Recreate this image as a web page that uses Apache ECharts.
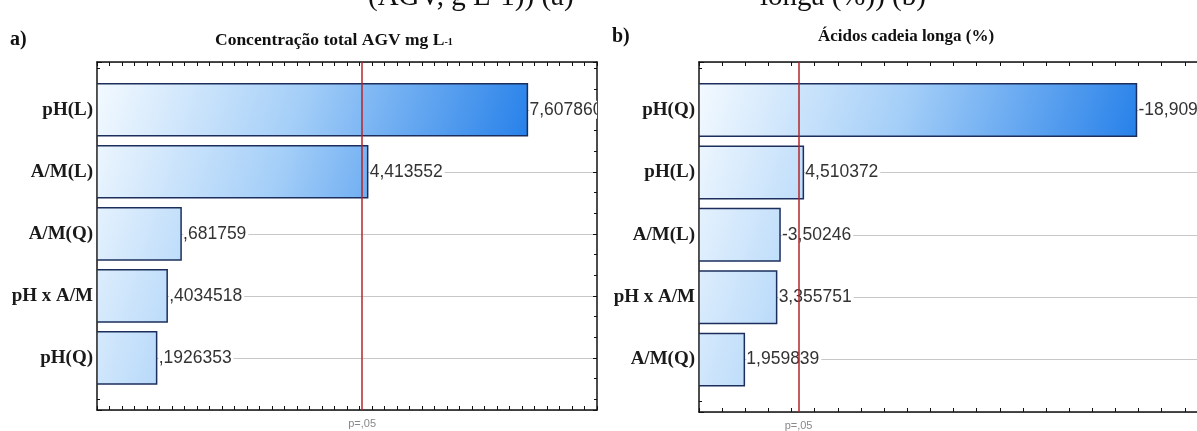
<!DOCTYPE html>
<html>
<head>
<meta charset="utf-8">
<script src="https://cdn.jsdelivr.net/npm/echarts@6/dist/echarts.min.js"></script>
<style>
  html, body { margin: 0; padding: 0; background: #fff; }
  #chart { width: 1197px; height: 431px; }
</style>
</head>
<body>
<div id="chart"></div>
<script>
// panel a) Concentração total AGV
const catsA = ['pH(L)', 'A/M(L)', 'A/M(Q)', 'pH x A/M', 'pH(Q)'];
const valsA = [7.607860, 4.413552, 0.681759, 0.4034518, 0.1926353];
const labelsA = ['7,607860', '4,413552', ',681759', ',4034518', ',1926353'];

// panel b) Ácidos cadeia longa
const catsB = ['pH(Q)', 'pH(L)', 'A/M(L)', 'pH x A/M', 'A/M(Q)'];
const valsB = [-18.90912, 4.510372, -3.50246, 3.355751, 1.959839];
const labelsB = ['-18,90912', '4,510372', '-3,50246', '3,355751', '1,959839'];

// p = .05 critical value
const crit = 4.303;

const yMin = -0.77, yMax = 4.84;
const barH = 0.84;
const serif = '"Liberation Serif", "DejaVu Serif", serif';
const sans = '"Liberation Sans", Arial, sans-serif';

function barRender(vals, labels) {
  const maxV = Math.max(...vals.map(Math.abs));
  return function (params, api) {
    const i = params.dataIndex;
    const cs = params.coordSys;
    const end = api.coord([api.value(0), api.value(1)]);
    const maxEnd = api.coord([maxV, 0]);
    const h = api.size([0, barH])[1];
    const grad = new echarts.graphic.LinearGradient(cs.x, cs.y, maxEnd[0], cs.y + cs.height * 0.4, [
      { offset: 0, color: '#f6fbff' },
      { offset: 0.45, color: '#a5cff8' },
      { offset: 1, color: '#1c7ae8' }
    ], true);
    return {
      type: 'group',
      children: [
        {
          type: 'rect',
          shape: { x: cs.x, y: end[1] - h / 2, width: end[0] - cs.x, height: h },
          style: { fill: grad, stroke: '#1c2f5c', lineWidth: 1.5 }
        },
        {
          type: 'text',
          x: end[0] + 2, y: end[1],
          style: {
            text: labels[i], fill: '#333', font: '17.5px ' + sans,
            verticalAlign: 'middle', backgroundColor: '#fff', padding: [0, 2, 0, 0]
          }
        }
      ]
    };
  };
}

function axesFor(grid, xmin, xmax, cats, minorX) {
  const line = { show: true, onZero: false, lineStyle: { color: '#111', width: 1.5 } };
  const tick = { show: true, inside: true, length: 4, lineStyle: { color: '#111' } };
  const xs = [
    {
      gridIndex: grid, type: 'value', position: 'bottom', min: xmin, max: xmax, interval: 1,
      axisLine: line, splitLine: { show: false }, axisTick: tick,
      minorTick: { show: minorX > 0, splitNumber: minorX || 5, length: 4, lineStyle: { color: '#111' } },
      axisLabel: {
        show: true, customValues: [crit], formatter: () => 'p=,05',
        color: '#888', fontSize: 11, fontFamily: sans, margin: 8
      }
    },
    {
      gridIndex: grid, type: 'value', position: 'top', min: xmin, max: xmax, interval: 1,
      axisLine: line, splitLine: { show: false }, axisLabel: { show: false }, axisTick: tick,
      minorTick: { show: minorX > 0, splitNumber: minorX || 5, length: 4, lineStyle: { color: '#111' } }
    }
  ];
  const ys = [
    {
      gridIndex: grid, type: 'value', position: 'left', inverse: true, min: yMin, max: yMax,
      axisLine: line,
      axisTick: { show: true, inside: true, length: 5, lineStyle: { color: '#111' } },
      minorTick: { show: true, splitNumber: 3, length: 3, lineStyle: { color: '#111' } },
      splitLine: { show: true, lineStyle: { color: '#c8c8c8', width: 1 } },
      axisLabel: {
        margin: 4, color: '#1a1a1a', fontFamily: serif, fontWeight: 'bold', fontSize: 19,
        formatter: v => (Number.isInteger(v) && cats[v] !== undefined ? cats[v] : '')
      }
    },
    {
      gridIndex: grid, type: 'value', position: 'right', inverse: true, min: yMin, max: yMax,
      axisLine: line, splitLine: { show: false }, axisLabel: { show: false },
      axisTick: { show: true, inside: true, length: 4, lineStyle: { color: '#111' } },
      minorTick: { show: true, splitNumber: 3, length: 3, lineStyle: { color: '#111' } }
    }
  ];
  return { xs, ys };
}

const axA = axesFor(0, -1, 9, catsA, 4);
const axB = axesFor(1, 0, 22, catsB, 0);

function critLine(x, y) {
  return {
    type: 'line', xAxisIndex: x, yAxisIndex: y, data: [], z: 10, silent: true,
    markLine: {
      symbol: 'none', silent: true, label: { show: false },
      lineStyle: { color: '#b3262a', width: 1.5, type: 'solid' },
      data: [{ xAxis: crit }]
    }
  };
}

const option = {
  animation: false,
  backgroundColor: '#fff',
  grid: [
    { left: 97, top: 62, width: 500, height: 348, outerBoundsMode: 'none' },
    { left: 699, top: 62, width: 509, height: 350, outerBoundsMode: 'none' }
  ],
  xAxis: [...axA.xs, ...axB.xs],
  yAxis: [...axA.ys, ...axB.ys],
  series: [
    {
      type: 'custom', xAxisIndex: 0, yAxisIndex: 0, clip: true, z: 3,
      encode: { x: 0, y: 1 },
      data: valsA.map((v, i) => [Math.abs(v), i]),
      renderItem: barRender(valsA, labelsA)
    },
    {
      type: 'custom', xAxisIndex: 2, yAxisIndex: 2, clip: true, z: 3,
      encode: { x: 0, y: 1 },
      data: valsB.map((v, i) => [Math.abs(v), i]),
      renderItem: barRender(valsB, labelsB)
    },
    critLine(0, 0),
    critLine(2, 2)
  ],
  graphic: [
    { type: 'text', left: 10, top: 30, style: { text: 'a)', font: 'bold 20px ' + serif, fill: '#111' } },
    { type: 'text', left: 612, top: 27, style: { text: 'b)', font: 'bold 20px ' + serif, fill: '#111' } },
    {
      type: 'text', left: 215, top: 31,
      style: {
        text: '{t|Concentração total AGV mg L}{s|-1}',
        rich: {
          t: { font: 'bold 17.5px ' + serif, fill: '#111' },
          s: { font: 'bold 10px ' + serif, fill: '#111', padding: [5, 0, 0, 0] }
        }
      }
    },
    { type: 'text', left: 818, top: 28, style: { text: 'Ácidos cadeia longa (%)', font: 'bold 17px ' + serif, fill: '#111' } },
    // caption line cut off at the top edge
    { type: 'text', left: 368, top: -17, style: { text: '(AGV, g L-1)) (a)', font: '29px ' + serif, fill: '#111' } },
    { type: 'text', left: 760, top: -17, style: { text: 'longa (%)) (b)', font: '29px ' + serif, fill: '#111' } }
  ]
};

const chart = echarts.init(document.getElementById('chart'), null, { renderer: 'canvas' });
chart.setOption(option);
</script>
</body>
</html>
